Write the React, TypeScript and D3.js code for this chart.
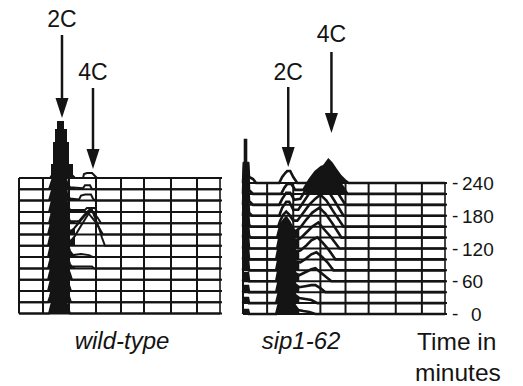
import React from "react";
import * as d3 from "d3";

const W = 523;
const H = 386;

// time points (minutes) of each histogram, bottom to top
const times = [0, 20, 40, 60, 80, 100, 120, 140, 160, 180, 200, 220, 240];
const timeTicks = [0, 60, 120, 180, 240];
const tickLabels = ["0", "60", "120", "180", "240"];
// DNA-content channels of the vertical grid lines
const gridChannels = [0, 24, 50, 77, 102, 125, 152, 178, 201];

// wild-type histograms: [DNA channel, count] per time point (0 .. 240 min)
const wildType: [number, number][][] = [
  [[30,0],[32,8],[34,14],[36,22],[38,26],[41,28],[43,25],[45,20],[47,12],[49,6],[51,0]],
  [[29,0],[31,6],[33,14],[35,22],[37,28],[40,30],[43,28],[45,22],[47,14],[50,6],[52,0]],
  [[29,0],[31,8],[33,16],[35,26],[38,32],[41,34],[44,30],[46,22],[48,14],[50,6],[52,0]],
  [[29,0],[31,8],[33,18],[35,28],[38,34],[41,36],[44,32],[46,24],[48,14],[51,6],[53,0]],
  [[29,0],[31,8],[33,18],[35,28],[38,35],[41,38],[44,33],[46,24],[48,14],[51,4],[53,2],[73,2],[75,0]],
  [[29,0],[31,9],[33,20],[35,30],[38,37],[41,40],[44,35],[46,26],[48,16],[51,6],[54,2],[62,3],[70,2],[74,0]],
  [[29,0],[31,9],[33,20],[35,30],[38,36],[41,38],[44,33],[46,24],[48,14],[51,4],[56,10],[62,20],[67,28],[71,34],[73,36],[76,28],[80,18],[83,8],[86,0]],
  [[29,0],[31,8],[33,18],[35,28],[38,34],[41,36],[44,31],[46,22],[48,12],[51,3],[55,6],[60,12],[65,18],[69,22],[72,18],[77,12],[81,5],[84,0]],
  [[30,0],[32,8],[34,18],[36,26],[39,32],[41,34],[44,28],[46,20],[48,10],[51,2],[60,2],[65,8],[71,14],[75,10],[79,5],[82,0]],
  [[30,0],[32,8],[34,16],[36,24],[39,30],[41,32],[44,27],[46,18],[48,9],[51,2],[66,2],[68,4],[76,4],[78,0]],
  [[30,0],[32,7],[34,14],[36,22],[39,28],[41,30],[44,25],[46,16],[48,8],[51,2],[60,1],[62,5],[66,6],[72,6],[74,2],[76,0]],
  [[30,0],[32,6],[34,12],[36,20],[39,26],[41,28],[44,23],[46,15],[48,7],[51,2],[64,1],[66,4],[71,4],[73,0]],
  [[31,0],[33,3],[33,13],[35,13],[35,35],[37,35],[37,48],[39,48],[39,56],[44,56],[44,48],[47,48],[47,35],[49,35],[49,13],[53,13],[53,3],[56,0],[64,0],[65,4],[68,5],[73,5],[76,2],[78,0]],
];

// sip1-62 histograms: [DNA channel, count] per time point (0 .. 240 min)
const sip162: [number, number][][] = [
  [[0,0],[1,4],[5,4],[6,0],[33,0],[35,8],[37,15],[40,20],[43,22],[46,20],[49,14],[52,8],[55,4],[60,3],[66,2],[72,0]],
  [[0,0],[1,5],[5,5],[6,0],[33,0],[35,8],[37,16],[40,22],[43,24],[46,22],[49,15],[52,8],[56,5],[62,4],[68,3],[74,0]],
  [[0,0],[1,6],[5,6],[6,0],[33,0],[35,9],[37,18],[40,25],[43,28],[46,24],[49,16],[52,8],[56,5],[62,6],[68,7],[72,7],[77,4],[82,0]],
  [[0,0],[1,8],[5,8],[6,0],[33,0],[35,10],[37,20],[40,27],[43,30],[46,25],[49,16],[52,8],[56,6],[62,9],[68,12],[72,13],[77,9],[83,4],[88,0]],
  [[0,0],[1,10],[5,10],[6,0],[33,0],[35,10],[37,20],[40,28],[43,32],[46,27],[49,17],[52,9],[57,8],[63,12],[68,16],[73,18],[78,14],[84,8],[90,0]],
  [[0,0],[1,11],[5,11],[6,0],[33,0],[35,10],[37,20],[40,28],[43,32],[46,26],[49,16],[52,8],[57,9],[63,14],[68,19],[74,22],[79,17],[85,10],[92,0]],
  [[0,0],[1,12],[5,12],[6,0],[34,0],[36,10],[38,20],[41,27],[43,30],[46,24],[49,14],[52,8],[57,10],[63,16],[69,22],[75,26],[80,20],[87,12],[96,0]],
  [[0,0],[1,13],[5,13],[6,2],[8,0],[34,0],[36,8],[38,14],[41,18],[43,20],[46,16],[49,10],[52,6],[57,10],[63,18],[69,25],[76,30],[82,24],[89,14],[98,0]],
  [[0,0],[1,15],[5,15],[6,2],[8,0],[35,0],[37,6],[40,12],[43,15],[46,12],[50,6],[54,6],[60,14],[66,22],[72,28],[77,32],[83,26],[90,15],[100,0]],
  [[0,0],[1,18],[5,18],[6,3],[9,0],[36,0],[39,8],[43,14],[46,14],[50,6],[55,6],[61,15],[67,24],[73,30],[78,32],[84,26],[91,15],[100,0]],
  [[0,0],[1,22],[5,22],[6,4],[10,0],[36,0],[39,6],[43,12],[47,12],[51,5],[57,6],[63,16],[69,24],[75,29],[80,30],[86,24],[93,14],[102,0]],
  [[0,0],[1,30],[5,30],[6,4],[10,0],[38,0],[41,6],[44,10],[48,10],[52,4],[60,4],[66,14],[72,22],[78,27],[83,28],[89,22],[96,12],[104,0]],
  [[0,0],[1,20],[2,20],[2,43],[3,43],[3,20],[5,20],[6,6],[8,5],[10,4],[13,0],[36,0],[39,6],[42,10],[44,12],[47,12],[50,6],[54,0],[66,0],[70,4],[74,9],[78,14],[82,19],[85,23],[88,20],[92,14],[97,7],[101,3],[105,0]],
];

// arrow markers: label, DNA channel
const wildMarkers = [
  { label: "2C", ch: 43 },
  { label: "4C", ch: 74 },
];
const sipMarkers = [
  { label: "2C", ch: 45 },
  { label: "4C", ch: 88 },
];

const INK = "#141414";
const FONT = "'Liberation Sans', Arial, Helvetica, sans-serif";

type Region = { ch: [number, number]; t: [number, number] };

type PanelProps = {
  id: string;
  data: [number, number][][];
  x: d3.ScaleLinear<number, number>;
  y: d3.ScaleLinear<number, number>;
  solid: Region[];
  strokeW: number;
  markers: { label: string; ch: number }[];
  arrowLayout: { labelY: number; top: number; tip: number }[];
  name: string;
  nameX: number;
};

function Panel({ id, data, x, y, solid, strokeW, markers, arrowLayout, name, nameX }: PanelProps) {
  const maxCh = gridChannels[gridChannels.length - 1];
  const count = d3.scaleLinear().domain([0, 100]).range([0, 100]);
  const x0 = x(0);
  const x1 = x(maxCh);
  const yTop = y(240);
  const yBot = y(0);

  const full = (pts: [number, number][]) => {
    const p = pts.slice();
    if (p[0][0] > 0) p.unshift([0, 0]);
    if (p[p.length - 1][0] < maxCh) p.push([maxCh, 0]);
    return p;
  };

  return (
    <g>
      <defs>
        {solid.map((r, k) => (
          <clipPath key={k} id={`solid-${id}-${k}`}>
            <rect x={x(r.ch[0])} y={0} width={x(r.ch[1]) - x(r.ch[0])} height={H} />
          </clipPath>
        ))}
      </defs>
      {times.map((t) => (
        <line key={`h${t}`} x1={x0} x2={x1 + 2} y1={y(t)} y2={y(t)} stroke={INK} strokeWidth={2} />
      ))}
      {gridChannels.map((c, i) => (
        <line key={`v${c}`} x1={x(c)} x2={x(c)} y1={yTop} y2={yBot} stroke={INK} strokeWidth={i === gridChannels.length - 1 ? 1.6 : 2} />
      ))}
      {data.map((pts, i) => {
        const t = times[i];
        const base = y(t);
        const p = full(pts);
        const line = d3
          .line<[number, number]>()
          .x((d) => x(d[0]))
          .y((d) => base - count(d[1]))(p) as string;
        const area = d3
          .area<[number, number]>()
          .x((d) => x(d[0]))
          .y0(base)
          .y1((d) => base - count(d[1]))(p) as string;
        return (
          <g key={`tr${i}`}>
            {solid.map((r, k) =>
              t >= r.t[0] && t <= r.t[1] ? (
                <path key={k} d={area} fill={INK} clipPath={`url(#solid-${id}-${k})`} />
              ) : null
            )}
            <path d={line} fill="none" stroke={INK} strokeWidth={strokeW} strokeLinejoin="miter" />
          </g>
        );
      })}
      {markers.map((m, i) => {
        const ax = x(m.ch);
        const L = arrowLayout[i];
        return (
          <g key={`m${i}`}>
            <text x={ax} y={L.labelY} textAnchor="middle" fontFamily={FONT} fontSize={23} fill={INK}>
              {m.label}
            </text>
            <line x1={ax} x2={ax} y1={L.top} y2={L.tip - 16} stroke={INK} strokeWidth={2.5} />
            <path d={`M${ax - 6.5},${L.tip - 20} L${ax + 6.5},${L.tip - 20} L${ax},${L.tip} Z`} fill={INK} />
          </g>
        );
      })}
      <text x={nameX} y={349} textAnchor="middle" fontFamily={FONT} fontStyle="italic" fontSize={24} fill={INK}>
        {name}
      </text>
    </g>
  );
}

export default function App() {
  const xW = d3.scaleLinear().domain([0, 201]).range([19, 220]);
  const xS = d3.scaleLinear().domain([0, 201]).range([243, 445]);
  const yW = d3.scaleLinear().domain([0, 240]).range([313.6, 178]);
  const yS = d3.scaleLinear().domain([0, 240]).range([314, 183]);

  return (
    <svg width={W} height={H} style={{ position: "absolute", left: 0, top: 0, background: "#fff" }}>
      <rect width={W} height={H} fill="#fff" />
      <Panel
        id="wt"
        data={wildType}
        x={xW}
        y={yW}
        solid={[{ ch: [28, 56], t: [0, 240] }]}
        strokeW={2}
        markers={wildMarkers}
        arrowLayout={[
          { labelY: 27, top: 35, tip: 118 },
          { labelY: 80, top: 88, tip: 169 },
        ]}
        name="wild-type"
        nameX={122}
      />
      <Panel
        id="sip"
        data={sip162}
        x={xS}
        y={yS}
        solid={[
          { ch: [0, 6], t: [0, 220] },
          { ch: [33, 56], t: [0, 140] },
          { ch: [62, 106], t: [220, 240] },
        ]}
        strokeW={2.6}
        markers={sipMarkers}
        arrowLayout={[
          { labelY: 80, top: 87, tip: 167 },
          { labelY: 42, top: 52, tip: 133 },
        ]}
        name="sip1-62"
        nameX={301}
      />
      {timeTicks.map((t, i) => (
        <g key={`tk${t}`}>
          <text x={452} y={yS(t) + 6} fontFamily={FONT} fontSize={19} fill={INK}>-</text>
          <text x={tickLabels[i].length === 1 ? 471 : 462} y={yS(t) + 7} fontFamily={FONT} fontSize={19} fill={INK}>
            {tickLabels[i]}
          </text>
        </g>
      ))}
      <text x={417} y={350} fontFamily={FONT} fontSize={24.5} fill={INK}>Time in</text>
      <text x={415} y={381} fontFamily={FONT} fontSize={24.5} fill={INK}>minutes</text>
    </svg>
  );
}
